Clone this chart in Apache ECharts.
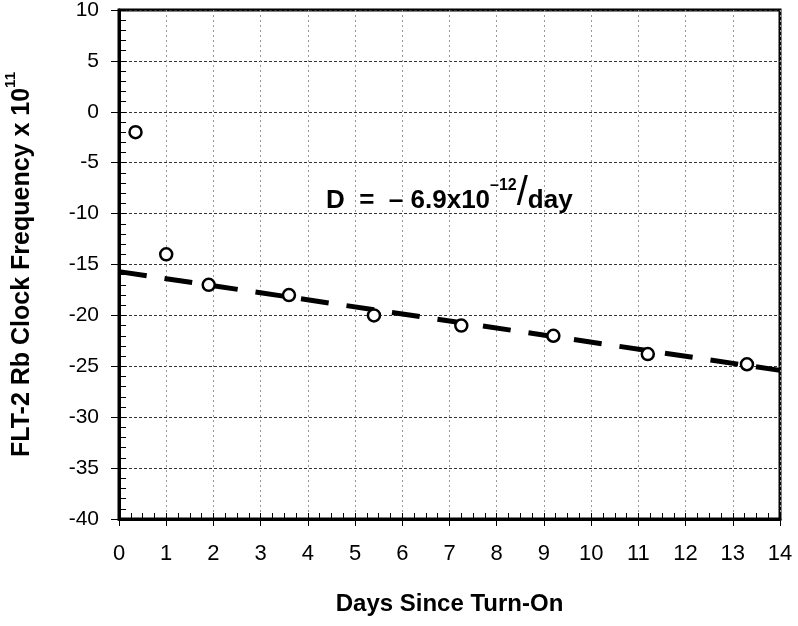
<!DOCTYPE html>
<html>
<head>
<meta charset="utf-8">
<script src="https://cdn.jsdelivr.net/npm/echarts@6/dist/echarts.min.js"></script>
<style>
  html, body { margin: 0; padding: 0; background: #fff; }
  #chart { width: 798px; height: 626px; }
</style>
</head>
<body>
<div id="chart"></div>
<script>
// measured points (days since turn-on, frequency x 1e11)
var days = [0.35, 1.0, 1.9, 3.6, 5.4, 7.25, 9.2, 11.2, 13.3];
var freq = [-2, -14, -17, -18, -20, -21, -22, -23.8, -24.8];

// drift fit line end points
var fitDays = [0, 14];
var fitFreq = [-15.7, -25.4];

var xTicks = { min: 0, max: 14, step: 1, minorStep: 0.25 };
var yTicks = { min: -40, max: 10, step: 5, minorStep: 1 };

var font = 'Liberation Sans, Arial, Helvetica, sans-serif';

var myChart = echarts.init(document.getElementById('chart'), null, { renderer: 'canvas' });

var pts = days.map(function (d, i) { return [d, freq[i]]; });
var fit = fitDays.map(function (d, i) { return [d, fitFreq[i]]; });

option = {
    backgroundColor: '#fff',
    animation: false,
    grid: {
        left: 119, right: 18, top: 10, bottom: 107,
        outerBoundsMode: 'none',
        show: true, borderColor: '#000', borderWidth: 3
    },
    xAxis: [
        {
            type: 'value',
            min: xTicks.min, max: xTicks.max, interval: xTicks.step,
            name: 'Days Since Turn-On',
            nameLocation: 'middle',
            nameGap: 73,
            nameTextStyle: { fontFamily: font, fontSize: 24, fontWeight: 'bold', color: '#000' },
            axisLine: { onZero: false, lineStyle: { color: '#000', width: 3 } },
            axisTick: { length: 7, lineStyle: { color: '#000', width: 1 } },
            axisLabel: { margin: 24, fontFamily: font, fontSize: 22, color: '#000' },
            splitLine: { lineStyle: { color: '#999', type: [2, 3], width: 1 } }
        },
        {
            // minor ticks, drawn inside
            type: 'value', position: 'bottom',
            min: xTicks.min, max: xTicks.max, interval: xTicks.minorStep,
            axisLine: { show: false, onZero: false },
            axisTick: { inside: true, length: 6, lineStyle: { color: '#000', width: 1 } },
            axisLabel: { show: false },
            splitLine: { show: false }
        }
    ],
    yAxis: [
        {
            type: 'value',
            min: yTicks.min, max: yTicks.max, interval: yTicks.step,
            name: '{a|FLT-2 Rb Clock Frequency x 10}{s|11}',
            nameLocation: 'middle',
            nameGap: 84,
            nameTextStyle: {
                rich: {
                    a: { fontFamily: font, fontSize: 25, fontWeight: 'bold', color: '#000', verticalAlign: 'bottom', lineHeight: 32 },
                    s: { fontFamily: font, fontSize: 15, fontWeight: 'bold', color: '#000', verticalAlign: 'top', lineHeight: 32 }
                }
            },
            axisLine: { onZero: false, lineStyle: { color: '#000', width: 3 } },
            axisTick: { length: 8, lineStyle: { color: '#000', width: 1 } },
            axisLabel: { margin: 20, fontFamily: font, fontSize: 21, color: '#000' },
            splitLine: { lineStyle: { color: '#333', type: [3, 2], width: 1 } }
        },
        {
            type: 'value', position: 'left',
            min: yTicks.min, max: yTicks.max, interval: yTicks.minorStep,
            axisLine: { show: false, onZero: false },
            axisTick: { inside: true, length: 7, lineStyle: { color: '#000', width: 1 } },
            axisLabel: { show: false },
            splitLine: { show: false }
        }
    ],
    graphic: [
        {
            type: 'text',
            left: 326, top: 174,
            style: {
                text: '{b|D  =  – 6.9x10}{s|–12}{sl|/}{b|day}',
                rich: {
                    b: { fontFamily: font, fontSize: 26, fontWeight: 'bold', fill: '#000', verticalAlign: 'bottom', lineHeight: 40 },
                    s: { fontFamily: font, fontSize: 16, fontWeight: 'bold', fill: '#000', verticalAlign: 'top', lineHeight: 40, padding: [4, 0, 0, 0] },
                    sl: { fontFamily: font, fontSize: 40, fontWeight: 'normal', fill: '#000', verticalAlign: 'bottom', lineHeight: 40 }
                }
            },
            z: 20
        }
    ],
    series: [
        {
            name: 'fit',
            type: 'line',
            xAxisIndex: 0, yAxisIndex: 0,
            data: fit,
            symbol: 'none',
            lineStyle: { color: '#000', width: 5, type: [28, 18], cap: 'butt' },
            z: 3
        },
        {
            name: 'data',
            type: 'scatter',
            xAxisIndex: 0, yAxisIndex: 0,
            data: pts,
            symbol: 'circle',
            symbolSize: 12,
            itemStyle: { color: '#fff', borderColor: '#000', borderWidth: 2.5, opacity: 1 },
            z: 5
        }
    ]
};

myChart.setOption(option);
</script>
</body>
</html>
